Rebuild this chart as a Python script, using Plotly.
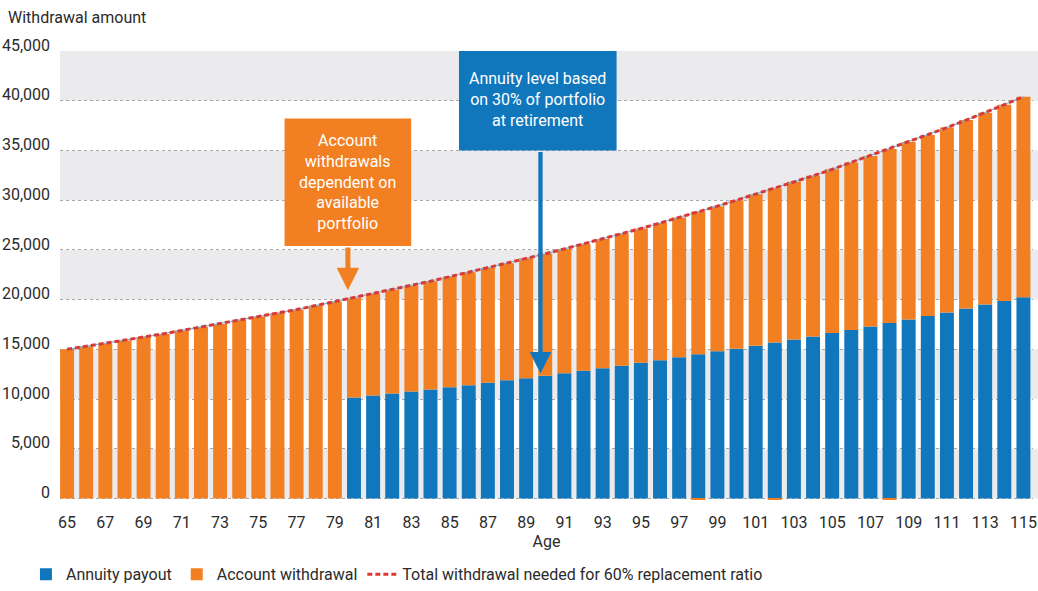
import plotly.graph_objects as go

ages = list(range(65, 116))
total_needed = [15000, 15300, 15600, 15900, 16250, 16550, 16900, 17250, 17550, 17950,
                18300, 18650, 19000, 19400, 19800, 20200, 20600, 21000, 21400, 21850,
                22300, 22750, 23200, 23650, 24150, 24600, 25100, 25600, 26100, 26650,
                27150, 27700, 28250, 28850, 29400, 30000, 30600, 31200, 31850, 32450,
                33100, 33800, 34450, 35150, 35850, 36550, 37300, 38050, 38800, 39600, 40400]
annuity_ages = list(range(80, 116))
annuity_vals = [10150, 10350, 10550, 10750, 10950, 11200, 11400, 11650, 11900, 12100,
                12350, 12600, 12850, 13100, 13350, 13650, 13900, 14200, 14500, 14800,
                15050, 15350, 15700, 16000, 16300, 16650, 16950, 17300, 17650, 18000,
                18350, 18700, 19100, 19500, 19850, 20250]
shortfall_ages = [98, 102, 108]
shortfall_vals = [-120, -120, -120]
tick_ages = list(range(65, 116, 2))
y_ticks = list(range(0, 45001, 5000))

annuity_map = dict(zip(annuity_ages, annuity_vals))
annuity = [annuity_map.get(a, 0) for a in ages]
account = [t - a for t, a in zip(total_needed, annuity)]

BLUE = "#1177BD"
ORANGE = "#F28022"
RED = "#D93A35"
FONT = "Roboto, Liberation Sans, sans-serif"
TXT = "#2b2b2b"
FS = 16

fig = go.Figure()
fig.add_trace(go.Bar(x=ages, y=annuity, name="Annuity payout", marker=dict(color=BLUE, line=dict(width=0))))
fig.add_trace(go.Bar(x=ages, y=account, name="Account withdrawal", marker=dict(color=ORANGE, line=dict(width=0))))
fig.add_trace(go.Bar(x=shortfall_ages, y=shortfall_vals, showlegend=False, marker=dict(color=ORANGE, line=dict(width=0))))
fig.add_trace(go.Scatter(x=ages, y=total_needed, mode="lines", showlegend=False, hoverinfo="skip",
                         line=dict(color="#7FB2DA", width=1.2)))
fig.add_trace(go.Scatter(x=ages, y=total_needed, mode="lines", name="Total withdrawal needed for 60% replacement ratio",
                         line=dict(color=RED, width=3, dash="5px,3px")))

shapes = []
for i, v in enumerate(y_ticks[:-1]):
    if i % 2 == 0:
        shapes.append(dict(type="rect", xref="paper", x0=0, x1=1.006, yref="y", y0=v, y1=v + 5000,
                           fillcolor="#EBEBED", line=dict(width=0), layer="below"))
# annotation boxes
shapes.append(dict(type="rect", xref="x", yref="y", x0=76.37, x1=82.99, y0=25380, y1=38200,
                   fillcolor=ORANGE, line=dict(width=0), layer="above"))
shapes.append(dict(type="rect", xref="x", yref="y", x0=85.49, x1=93.73, y0=35000, y1=45170,
                   fillcolor=BLUE, line=dict(width=0), layer="above"))

annotations = [
    dict(x=79.68, y=31790, xref="x", yref="y", showarrow=False,
         text="Account<br>withdrawals<br>dependent on<br>available<br>portfolio",
         font=dict(family=FONT, size=FS, color="white"), align="center"),
    dict(x=89.61, y=40100, xref="x", yref="y", showarrow=False,
         text="Annuity level based<br>on 30% of portfolio<br>at retirement",
         font=dict(family=FONT, size=FS, color="white"), align="center"),
    dict(x=79.68, y=20930, xref="x", yref="y", ax=79.68, ay=25380, axref="x", ayref="y",
         text="", showarrow=True, arrowhead=2, arrowsize=0.9, arrowwidth=5, arrowcolor=ORANGE),
    dict(x=89.75, y=12575, xref="x", yref="y", ax=89.75, ay=35000, axref="x", ayref="y",
         text="", showarrow=True, arrowhead=2, arrowsize=1.0, arrowwidth=4.3, arrowcolor=BLUE),
]

fig.update_layout(
    width=1038, height=591,
    margin=dict(l=60, r=5, t=51, b=90, autoexpand=False),
    paper_bgcolor="white", plot_bgcolor="white",
    barmode="relative", bargap=0.27,
    font=dict(family=FONT, size=FS, color=TXT),
    title=dict(text="Withdrawal amount", xref="container", yref="container", x=8/1038, xanchor="left",
               y=1 - 12/591, yanchor="top", font=dict(family=FONT, size=FS, color=TXT)),
    xaxis=dict(range=[64.63, 115.5], tickmode="array", tickvals=tick_ages, ticktext=[str(a) for a in tick_ages],
               showgrid=False, zeroline=False, showline=False, ticks="", ticklabelstandoff=10,
               automargin=False, ticklabeloverflow="allow",
               title=dict(text="Age", standoff=3, font=dict(family=FONT, size=FS, color=TXT)),
               tickfont=dict(family=FONT, size=FS, color=TXT)),
    yaxis=dict(range=[-250, 45000], tickmode="array", tickvals=y_ticks, tickformat=",",
               showgrid=True, gridcolor="#A8A8A8", griddash="dot", gridwidth=1, zeroline=False,
               showline=False, ticks="", ticklabelstandoff=9, ticklabelshift=-6, automargin=False,
               ticklabeloverflow="allow",
               tickfont=dict(family=FONT, size=FS, color=TXT)),
    legend=dict(orientation="h", x=-0.035, xanchor="left", y=-0.125, yanchor="top",
                font=dict(family=FONT, size=FS, color=TXT), itemwidth=30, traceorder="normal"),
    shapes=shapes, annotations=annotations,
)

fig.write_html("out.html", config={"displayModeBar": False},
               post_script="document.body.style.margin='0px';document.body.style.padding='0px';")
